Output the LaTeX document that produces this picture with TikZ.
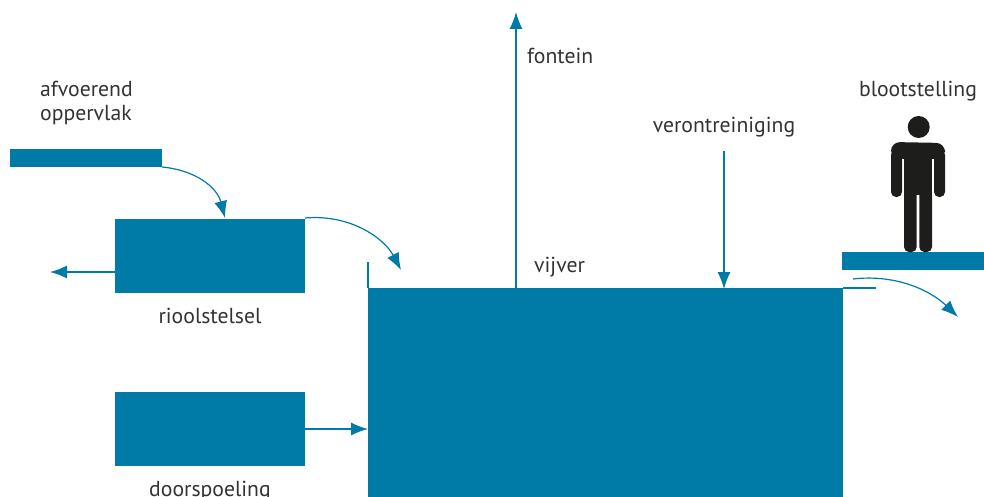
\documentclass[tikz,border=0pt]{standalone}
\usepackage{fontspec}
\setmainfont{PT Sans}
\usetikzlibrary{arrows.meta,calc}
\definecolor{water}{HTML}{007BA7}
\definecolor{ink}{HTML}{333333}
\definecolor{figure}{HTML}{1D1D1B}

\begin{document}
\begin{tikzpicture}[x=1pt,y=-1pt]
\tikzstyle{block}=[rectangle, fill=water, inner sep=0pt, outer sep=0pt]
\tikzstyle{txt}=[inner sep=0pt, text=ink, font=\fontsize{21.7}{24}\selectfont]
\tikzstyle{connect}=[-{Latex[length=17pt,width=13pt]}, water, line width=1.2pt]
\tikzstyle{bare}=[water, line width=1.1pt]
\useasboundingbox (0,0) rectangle (984,497);

  \node[block, minimum width=152pt, minimum height=18pt] (runoff) at (86,158) {};
  \node[block, minimum width=190pt, minimum height=74pt] (sewer) at (210,256) {};
  \node[block, minimum width=190pt, minimum height=74pt] (flush) at (210,429) {};
  \node[block, minimum width=475pt, minimum height=209pt] (pond) at (605.5,392.5) {};
  \node[block, minimum width=142pt, minimum height=18pt] (deck) at (913,261) {};

  \node[txt, anchor=base west] (lblrunoffa) at (40,97) {afvoerend};
  \node[txt, anchor=base west] (lblrunoffb) at (40,121) {oppervlak};
  \node[txt, anchor=base] (lblsewer) at (210,323.5) {rioolstelsel};
  \node[txt, anchor=base] (lblflush) at (210,496) {doorspoeling};
  \node[txt, anchor=base west] (lblfountain) at (527,64) {fontein};
  \node[txt, anchor=base west] (lblpond) at (534,272.5) {vijver};
  \node[txt, anchor=base] (lblpollution) at (724,133) {verontreiniging};
  \node[txt, anchor=base] (lblexposure) at (918,97) {blootstelling};

  \coordinate (sewerin) at (225,218);
  \coordinate (sewerout) at (305,218);
  \coordinate (pondin) at (401,270);
  \coordinate (sewerleft) at (50,272);
  \coordinate (fountaintop) at (516,12);
  \coordinate (fountainfoot) at (516,288);
  \coordinate (pollutionfoot) at (724,289);
  \coordinate (pollutiontop) at (724,151);
  \coordinate (wallfoot) at (368,288);
  \coordinate (walltop) at (368,262);
  \coordinate (lipend) at (876,288);
  \coordinate (outstart) at (853,279);
  \coordinate (outend) at (958,317);

  \draw[connect] (runoff.south east) .. controls (195,170) and (217,187) .. (sewerin);
  \draw[connect] (sewerout) .. controls (350,214) and (384,238) .. (pondin);
  \draw[connect] (sewer.west |- sewerleft) -- (sewerleft);
  \draw[connect] (flush.east) -- (flush.east -| pond.west);
  \draw[connect] (fountainfoot) -- (fountaintop);
  \draw[connect] (pollutiontop) -- (pollutionfoot);
  \draw[bare] (wallfoot) -- (walltop);
  \draw[bare] (pond.north east) -- (lipend);
  \draw[connect] (outstart) .. controls (895,274) and (930,290) .. (outend);

  % person
  \fill[figure] (918.7,127) circle (11);
  \fill[figure, rounded corners=9pt] (891,159) -- (891,142) -- (945,143) -- (945,159) -- cycle;
  \fill[figure, rounded corners=5pt] (891,150) rectangle (902,197);
  \fill[figure, rounded corners=5pt] (934,150) rectangle (945,197);
  \fill[figure] (904,150) rectangle (932,195);
  \fill[figure, rounded corners=5pt] (904,190) rectangle (916.7,252);
  \fill[figure, rounded corners=5pt] (919.3,190) rectangle (932,252);

\end{tikzpicture}
\end{document}
